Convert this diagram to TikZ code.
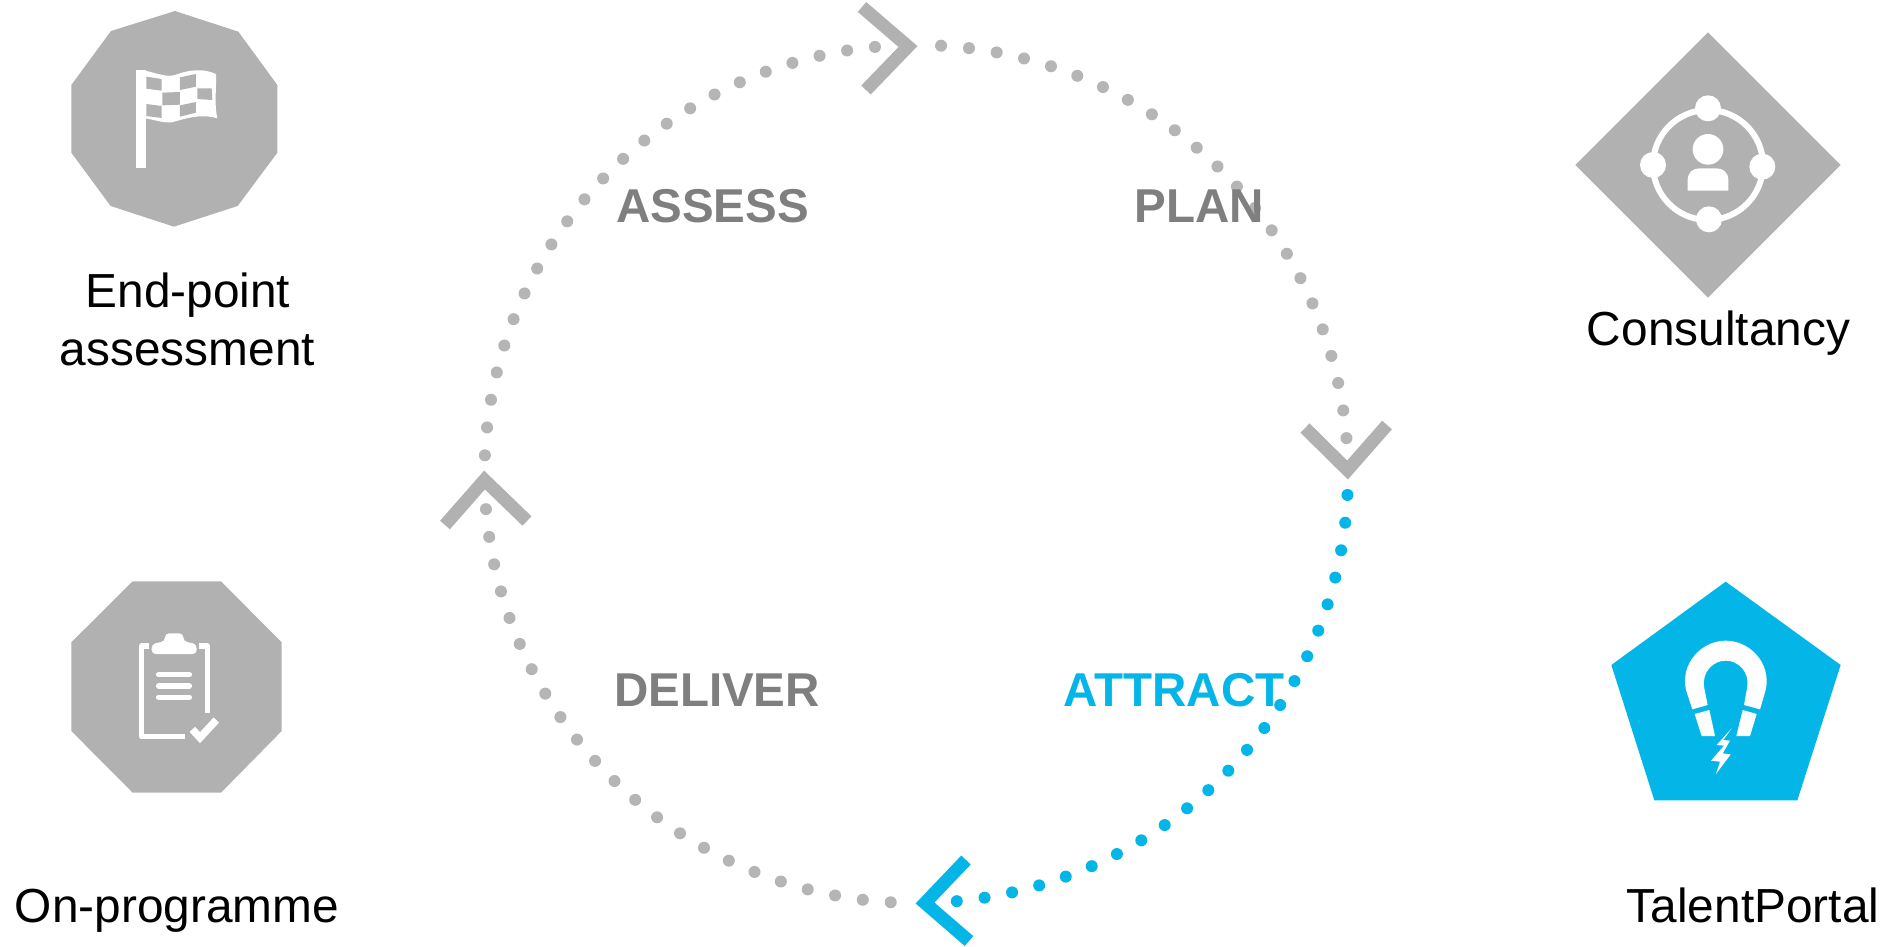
\documentclass[tikz,border=0pt]{standalone}
\usepackage{fontspec}
\setmainfont{Liberation Sans}
\definecolor{shapegray}{HTML}{B1B1B1}
\definecolor{dotgray}{HTML}{B5B5B5}
\definecolor{cyanblue}{HTML}{04B6E7}
\definecolor{labelgray}{HTML}{7F7F7F}
\tikzset{
  caption/.style={anchor=base,inner sep=0pt,font=\fontsize{47.8}{57}\selectfont,text=black},
  phase/.style={anchor=base,inner sep=0pt,font=\fontsize{47.5}{58}\selectfont\bfseries,text=labelgray},
  chevron/.style={line width=13pt,miter limit=10,line join=miter},
  iconline/.style={draw=white,line join=round}
}
\newcommand{\dotarc}[5]{% colour, start, end, steps, centre x
  \foreach \k in {0,...,#4}{
    \pgfmathsetmacro\ang{#2+(#3-#2)*\k/#4}
    \fill[#1] ({#5+431*cos(\ang)},{474+429*sin(\ang)}) circle[radius=6];
  }}
\begin{document}
\begin{tikzpicture}[x=1pt,y=-1pt]
\useasboundingbox (0,0) rectangle (1888,946);
\fill[white] (0,0) rectangle (1888,946);
% dotted ring
\dotarc{dotgray}{-86.8}{-4.8}{22}{917}
\dotarc{cyanblue}{2.8}{84.7}{22}{917}
\dotarc{dotgray}{93.3}{175.3}{22}{915.5}
\dotarc{dotgray}{182.5}{264.6}{22}{915.5}
% chevrons
\draw[chevron,shapegray] (862,7) -- (908,46.5) -- (866,90);
\draw[chevron,shapegray] (1305,428) -- (1347.5,470) -- (1387,425);
\draw[chevron,cyanblue] (966,860) -- (925,903) -- (969,941);
\draw[chevron,shapegray] (445,525) -- (484.5,480) -- (527,521);
% phase labels
\node[phase] (assess) at (712.5,222) {ASSESS};
\node[phase] (plan) at (1199.5,222) {PLAN};
\node[phase] (deliver) at (717,706) {DELIVER};
\node[phase,text=cyanblue] (attract) at (1174,706) {ATTRACT};
% captions
\node[caption] (endpoint) at (188,307) {End-point};
\node[caption] (assessment) at (187.5,365) {assessment};
\node[caption] (consultancy) at (1718.5,345) {Consultancy};
\node[caption] (onprog) at (177,922) {On-programme};
\node[caption] (talent) at (1753,922) {TalentPortal};
% decagon with flag
\begin{scope}[shift={(50,0)},x=0.33333pt,y=-0.33333pt]
\fill[shapegray] (375,33)--(565,95)--(682,255)--(682,458)--(563,618)--(372,680)--(182,618)--(64,458)--(64,255)--(183,93)--cycle;
\fill[white] (257,210)--(289,210)--(289,503)--(257,503)--cycle;
\fill[white] (285,212) .. controls (330,222) and (350,232) .. (375,225) .. controls (420,208) and (460,205) .. (498,222) .. controls (500,265) and (492,310) .. (502,355) .. controls (450,340) and (410,355) .. (365,367) .. controls (340,370) and (310,358) .. (285,355) --cycle;
\fill[shapegray] (289,230)--(335,237)--(335,272)--(289,266)--cycle;
\fill[shapegray] (390,232)--(438,222)--(438,260)--(390,270)--cycle;
\fill[shapegray] (337,278)--(390,276)--(390,314)--(337,316)--cycle;
\fill[shapegray] (442,265)--(485,265)--(487,300)--(442,297)--cycle;
\fill[shapegray] (289,312)--(335,318)--(335,354)--(289,348)--cycle;
\fill[shapegray] (390,316)--(438,306)--(438,338)--(390,350)--cycle;
\end{scope}
% octagon with clipboard
\begin{scope}[shift={(50,570)},x=0.33333pt,y=-0.33333pt]
\fill[shapegray] (248,34)--(513,34)--(695,217)--(695,483)--(513,668)--(248,668)--(64,483)--(64,217)--cycle;
\draw[iconline,line width=5.5pt] (298,228)--(275,228)--(275,500)--(405,500);
\draw[iconline,line width=5.5pt] (448,228)--(472,228)--(472,428);
\fill[white,rounded corners=4pt] (305,252)--(305,222)--(345,214)--(345,190)--(400,190)--(400,214)--(440,222)--(440,252)--cycle;
\foreach \yy in {314,348,382}{
  \draw[iconline,line width=5.5pt,line cap=round] (326,\yy)--(418,\yy);
}
\draw[draw=white,line width=7.5pt,line join=miter] (427,478)--(450,503)--(499,450);
\end{scope}
% diamond with consultancy icon
\begin{scope}[shift={(1560,20)},x=0.33333pt,y=-0.33333pt]
\fill[shapegray] (444,37)--(842,435)--(444,833)--(46,435)--cycle;
\draw[white,line width=6pt] (444,435) circle[radius=165];
\foreach \cx/\cy in {444/265,279/435,607/440,447/598}{
  \fill[white] (\cx,\cy) circle[radius=39];
}
\fill[white] (444,388) circle[radius=46];
\fill[white] (383,512)--(383,480) .. controls (383,458) and (398,445) .. (418,445) -- (470,445) .. controls (490,445) and (505,458) .. (505,480) -- (505,512)--cycle;
\end{scope}
% pentagon with magnet
\begin{scope}[shift={(1590,570)},x=0.33333pt,y=-0.33333pt]
\fill[cyanblue] (407,35)--(752,285)--(622,691)--(193,691)--(64,285)--cycle;
\fill[white] (307,418) -- (288,360) .. controls (270,280) and (335,212) .. (407,212) .. controls (480,212) and (545,280) .. (527,360) -- (510,418) -- (462,405) -- (472,350) .. controls (478,305) and (445,272) .. (407,272) .. controls (370,272) and (336,305) .. (342,350) -- (353,405) --cycle;
\fill[white] (314,432)--(358,420)--(375,498)--(335,498)--cycle;
\fill[white] (458,420)--(500,432)--(480,498)--(439,498)--cycle;
\fill[white] (425,475)--(380,525)--(402,527)--(363,572)--(390,575)--(378,612)--(422,553)--(398,550)--(420,512)--(400,510)--cycle;
\end{scope}
\end{tikzpicture}
\end{document}
